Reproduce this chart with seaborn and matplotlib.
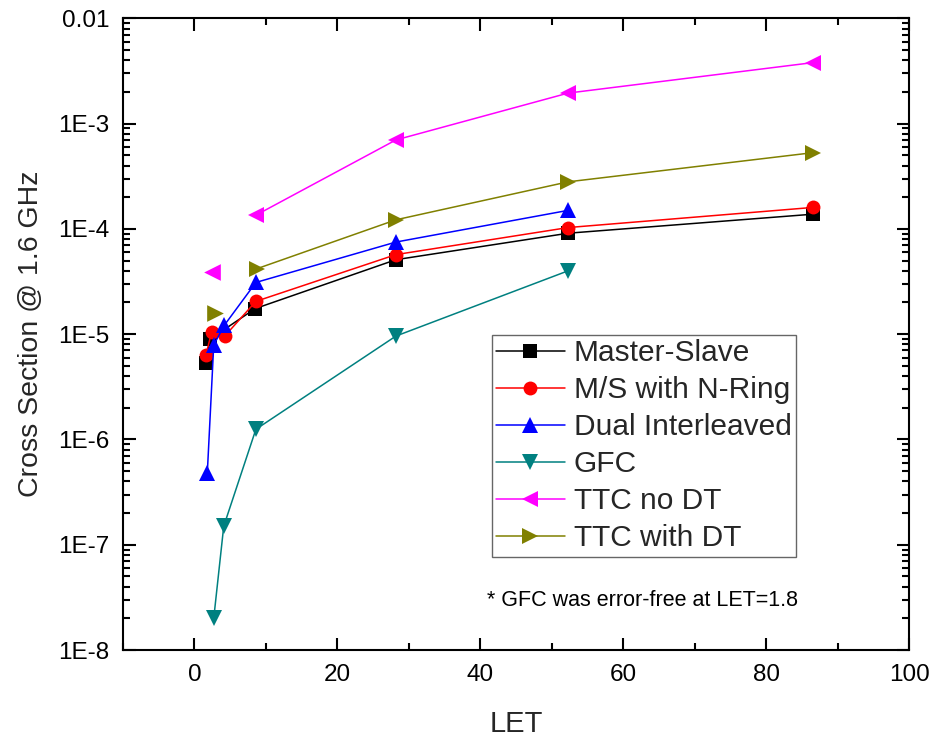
import matplotlib
matplotlib.use("Agg")
import matplotlib.pyplot as plt
import matplotlib.ticker as mticker
import numpy as np
import seaborn as sns

# Heavy-ion test results: cross section vs LET for each flip-flop design
ms_let = [1.6, 2.2, 8.5, 28.2, 52.3, 86.6]
ms_xs = [5.3e-6, 9.0e-6, 1.75e-5, 5.1e-5, 9.1e-5, 1.38e-4]

nring_let = [1.6, 2.4, 4.3, 8.6, 28.2, 52.3, 86.6]
nring_xs = [6.3e-6, 1.05e-5, 9.7e-6, 2.05e-5, 5.7e-5, 1.03e-4, 1.6e-4]

dual_let = [1.8, 2.7, 4.2, 8.6, 28.2, 52.3]
dual_xs = [4.8e-7, 7.9e-6, 1.22e-5, 3.1e-5, 7.5e-5, 1.5e-4]

gfc_let = [2.7, 4.1, 8.6, 28.2, 52.3]
gfc_xs = [2.0e-8, 1.5e-7, 1.25e-6, 9.6e-6, 4.0e-5]

ttc_nodt_let = [2.5, 8.6, 28.2, 52.3, 86.6]
ttc_nodt_xs = [3.9e-5, 1.35e-4, 7.0e-4, 1.95e-3, 3.8e-3]

ttc_dt_let = [2.9, 8.8, 28.2, 52.3, 86.6]
ttc_dt_xs = [1.6e-5, 4.2e-5, 1.22e-4, 2.8e-4, 5.3e-4]

series_names = ["Master-Slave", "M/S with N-Ring", "Dual Interleaved",
                "GFC", "TTC no DT", "TTC with DT"]
series_data = [(ms_let, ms_xs), (nring_let, nring_xs), (dual_let, dual_xs),
               (gfc_let, gfc_xs), (ttc_nodt_let, ttc_nodt_xs),
               (ttc_dt_let, ttc_dt_xs)]
series_colors = ["#000000", "#FF0000", "#0000FF", "#008080", "#FF00FF", "#808000"]
series_markers = ["s", "o", "^", "v", "<", ">"]
series_msize = [9.5, 10, 12, 12, 12, 12]
# number of leading points measured separately (not joined to the rest)
series_detached = [0, 0, 0, 0, 1, 1]

y_ticks = [1e-8, 1e-7, 1e-6, 1e-5, 1e-4, 1e-3, 1e-2]
y_tick_labels = ["1E-8", "1E-7", "1E-6", "1E-5", "1E-4", "1E-3", "0.01"]
x_ticks = [0, 20, 40, 60, 80, 100]

sns.set_theme(style="ticks")
plt.rcParams["font.family"] = ["Liberation Sans", "DejaVu Sans"]

fig = plt.figure(figsize=(9.31, 7.36), dpi=100)
ax = fig.add_axes([0.1321, 0.1168, 0.8443, 0.8583])

for name, (xv, yv), col, mk, msz, nd in zip(series_names, series_data,
                                             series_colors, series_markers,
                                             series_msize, series_detached):
    sns.lineplot(x=xv[nd:], y=yv[nd:], ax=ax, color=col, marker=mk,
                 markersize=msz, markeredgewidth=0, linewidth=1.1,
                 label=name, sort=False)
    if nd:
        sns.scatterplot(x=xv[:nd], y=yv[:nd], ax=ax, color=col, marker=mk,
                        s=msz ** 2, linewidth=0, legend=False)

ax.set_yscale("log")
ax.set_xlim(-10, 100)
ax.set_ylim(1e-8, 1e-2)

ax.set_xticks(x_ticks)
ax.xaxis.set_minor_locator(mticker.MultipleLocator(10))
ax.set_yticks(y_ticks)
ax.set_yticklabels(y_tick_labels)
ax.yaxis.set_minor_locator(mticker.LogLocator(base=10, subs=np.arange(2, 10)))
ax.yaxis.set_minor_formatter(mticker.NullFormatter())

for side in ["left", "right", "top", "bottom"]:
    ax.spines[side].set_visible(True)
    ax.spines[side].set_linewidth(1.5)
    ax.spines[side].set_color("black")

ax.tick_params(which="both", direction="in", top=True, right=True,
               colors="black", width=1.5, labelsize=17.5)
ax.tick_params(which="major", length=9)
ax.tick_params(which="minor", length=5)
ax.tick_params(axis="y", which="major", pad=10)
ax.tick_params(axis="x", which="major", pad=10)

ax.set_xlabel("LET", fontsize=21, labelpad=17)
ax.set_ylabel("Cross Section @ 1.6 GHz", fontsize=20.5, labelpad=10)

leg = ax.legend(loc="upper left", bbox_to_anchor=(0.469, 0.4987),
                borderaxespad=0, fontsize=21.5, frameon=True, fancybox=False,
                framealpha=1, edgecolor="#666666", handlelength=2.3,
                handletextpad=0.3, labelspacing=0.3, borderpad=0.15)
leg.get_frame().set_linewidth(1.0)

ax.text(0.4627, 0.079, "* GFC was error-free at LET=1.8", transform=ax.transAxes,
        fontsize=15.5, va="center", ha="left", color="black")

fig.savefig("out.png", dpi=100, facecolor="white")
